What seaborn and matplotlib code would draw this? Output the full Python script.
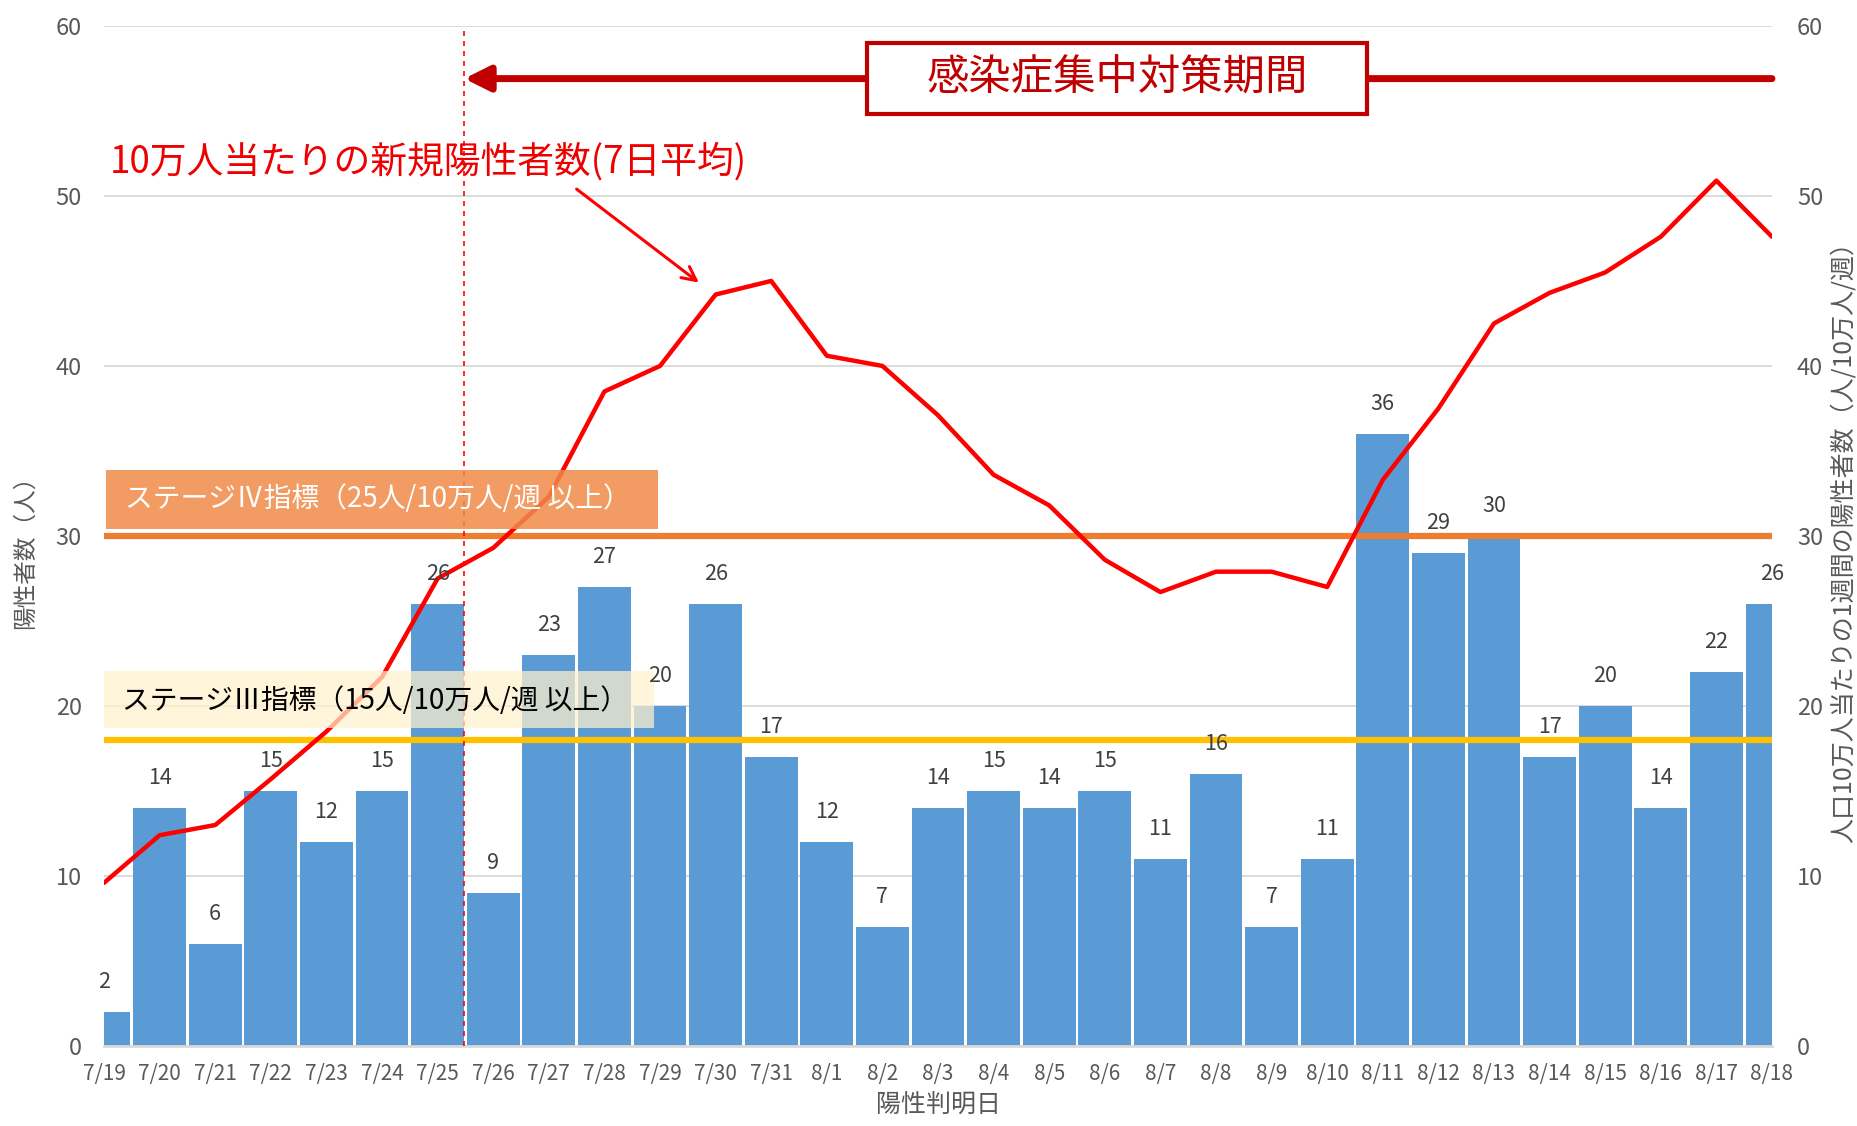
import numpy as np
import pandas as pd
import matplotlib
matplotlib.use("Agg")
import matplotlib.pyplot as plt
import seaborn as sns
from matplotlib.patches import Rectangle

# ---------------- data ----------------
dates = ["7/19", "7/20", "7/21", "7/22", "7/23", "7/24", "7/25", "7/26", "7/27", "7/28",
         "7/29", "7/30", "7/31", "8/1", "8/2", "8/3", "8/4", "8/5", "8/6", "8/7",
         "8/8", "8/9", "8/10", "8/11", "8/12", "8/13", "8/14", "8/15", "8/16", "8/17", "8/18"]
cases = [2, 14, 6, 15, 12, 15, 26, 9, 23, 27,
         20, 26, 17, 12, 7, 14, 15, 14, 15, 11,
         16, 7, 11, 36, 29, 30, 17, 20, 14, 22, 26]
weekly_per100k = [9.6, 12.4, 13.0, 15.7, 18.5, 21.7, 27.5, 29.3, 32.3, 38.5,
                  40.0, 44.2, 45.0, 40.6, 40.0, 37.1, 33.6, 31.8, 28.6, 26.7,
                  27.9, 27.9, 27.0, 33.3, 37.5, 42.5, 44.3, 45.5, 47.6, 50.9, 47.6]
stage4_level = 30
stage3_level = 18
yticks = [0, 10, 20, 30, 40, 50, 60]

# ---------------- style ----------------
sns.set_theme(style="white")
plt.rcParams["font.family"] = ["Noto Sans CJK JP", "DejaVu Sans"]

GRAY = "#595959"
BAR = "#5B9BD5"
RED = "#FF0000"
DARKRED = "#C00000"

fig = plt.figure(figsize=(18.58, 11.26), dpi=100)
ax = fig.add_axes([0.056, 0.071, 0.8977, 0.906])

df = pd.DataFrame({"date": dates, "cases": cases, "avg": weekly_per100k})
n = len(dates)
pos = np.arange(n)

sns.barplot(data=df, x="date", y="cases", ax=ax, color=BAR, saturation=1,
            width=0.95, linewidth=0, edgecolor="none", zorder=2)

ax.set_ylim(0, 60)
ax.set_yticks(yticks)
ax.yaxis.grid(True, color="#D9D9D9", lw=1.3, zorder=0)
ax.set_axisbelow(True)
for s in ["left", "right", "top"]:
    ax.spines[s].set_visible(False)
ax.spines["bottom"].set_color("#D9D9D9")
ax.spines["bottom"].set_linewidth(2)
ax.tick_params(axis="x", length=6, width=1, color="#BFBFBF", labelcolor=GRAY,
               labelsize=15, pad=6)
ax.tick_params(axis="y", length=0, labelsize=17, labelcolor=GRAY, pad=16)
ax.set_xlabel("陽性判明日", fontsize=18, color=GRAY, labelpad=6)
ax.set_ylabel("陽性者数（人）", fontsize=17, color=GRAY, va="center")
ax.yaxis.set_label_coords(-0.047, 0.49)

# ---------------- secondary axis ----------------
ax2 = ax.twinx()
sns.lineplot(x=pos, y=weekly_per100k, ax=ax2, color=RED, lw=3.2, zorder=5)
ax2.set_ylim(0, 60)
ax2.set_yticks(yticks)
for s in ["left", "right", "top", "bottom"]:
    ax2.spines[s].set_visible(False)
ax2.tick_params(axis="y", length=0, labelsize=17, labelcolor=GRAY, pad=18)
ax2.set_ylabel("人口10万人当たりの1週間の陽性者数（人/10万人/週）", fontsize=18,
               color=GRAY, rotation=90, va="center")
ax2.yaxis.set_label_coords(1.043, 0.5)
ax2.grid(False)

# stage reference lines
ax2.axhline(stage4_level, color="#ED7D31", lw=4.5, zorder=4)
ax2.axhline(stage3_level, color="#FFC000", lw=4.5, zorder=4)

# stage label boxes
ax2.add_patch(Rectangle((0.04, 30.4), 9.92, 3.5, facecolor="#F08A48", alpha=0.85,
                        edgecolor="none", zorder=7))
ax2.text(0.38, 32.2, "ステージⅣ指標（25人/10万人/週 以上）", color="white",
         fontsize=20, va="center", ha="left", zorder=8)
ax2.add_patch(Rectangle((0.0, 18.7), 9.9, 3.35, facecolor="#FFF2CC", alpha=0.72,
                        edgecolor="none", zorder=7))
ax2.text(0.33, 20.3, "ステージⅢ指標（15人/10万人/週 以上）", color="black",
         fontsize=20, va="center", ha="left", zorder=8)

# bar value labels
for i, v in enumerate(cases):
    ax2.text(i, v + 1.75, str(v), ha="center", va="center", fontsize=15.5,
             color="#404040", zorder=9, clip_on=False)

# vertical dashed line (start of period)
ax2.axvline(6.48, color=RED, lw=1.2, ls=(0, (3, 3)), zorder=6)

# period arrow and box
ax2.annotate("", xy=(6.48, 56.9), xytext=(n - 1, 56.9),
             arrowprops=dict(arrowstyle="-|>", color=DARKRED, lw=5,
                             mutation_scale=38, shrinkA=0, shrinkB=0),
             zorder=6)
ax2.add_patch(Rectangle((13.73, 54.8), 8.98, 4.2, facecolor="white",
                        edgecolor=DARKRED, lw=3, zorder=7))
ax2.text(18.22, 56.9, "感染症集中対策期間", color=DARKRED, fontsize=30.5,
         ha="center", va="center", zorder=8)

# annotation for the line
ax2.text(0.1, 52.0, "10万人当たりの新規陽性者数(7日平均)", color="#EE0000",
         fontsize=26.5, ha="left", va="center", zorder=8)
ax2.annotate("", xy=(10.7, 44.9), xytext=(8.5, 50.4),
             arrowprops=dict(arrowstyle="->", color=RED, lw=2.2,
                             mutation_scale=25, shrinkA=0, shrinkB=0),
             zorder=8)

ax.set_xlim(0, n - 1)
ax2.set_xlim(0, n - 1)

fig.savefig("out.png", dpi=100)
